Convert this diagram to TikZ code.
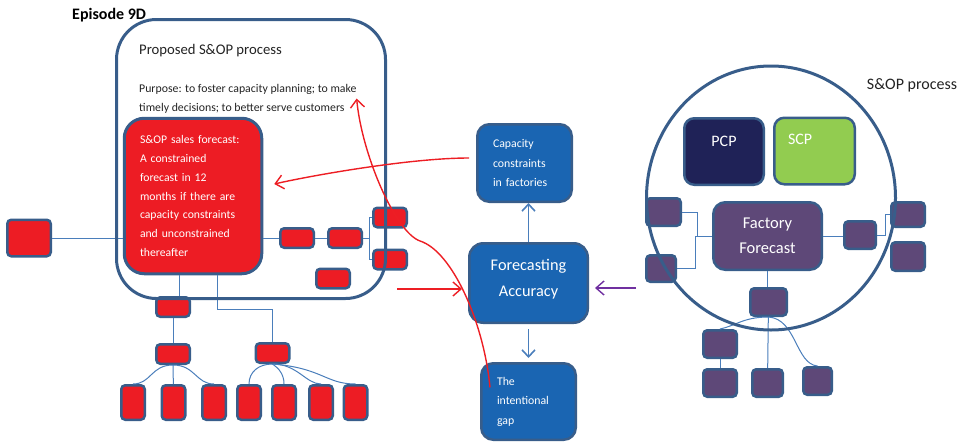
\documentclass[tikz,border=0pt]{standalone}
\usepackage{fontspec}
\setmainfont{Carlito}
\usepackage{xcolor}
\usetikzlibrary{arrows.meta,positioning,shapes.geometric}
\definecolor{EdgeBlue}{RGB}{56,93,138}
\definecolor{SopRed}{RGB}{237,28,36}
\definecolor{MidBlue}{RGB}{26,101,178}
\definecolor{LinkBlue}{RGB}{74,126,187}
\definecolor{ArrowRed}{RGB}{237,30,36}
\definecolor{ArrowPurple}{RGB}{112,48,160}
\definecolor{PcpNavy}{RGB}{31,34,87}
\definecolor{ScpGreen}{RGB}{146,204,80}
\definecolor{FactoryPurple}{RGB}{94,72,120}
\definecolor{TextDark}{RGB}{35,35,35}
\tikzset{
  frame/.style={draw=EdgeBlue, line width=3pt, inner sep=0pt},
  salesbox/.style={draw=EdgeBlue, fill=SopRed, line width=3pt, rounded corners=20pt,
    inner sep=0pt, text=white, align=left, font=\fontsize{11.7}{18.8}\selectfont},
  redcell/.style={draw=EdgeBlue, fill=SopRed, line width=2.5pt, rounded corners=4pt,
    inner sep=0pt, minimum width=33.5pt, minimum height=19.5pt},
  tallcell/.style={redcell, minimum width=23.5pt, minimum height=34.5pt},
  purplecell/.style={draw=EdgeBlue, fill=FactoryPurple, line width=2.5pt, rounded corners=4pt,
    inner sep=0pt, minimum width=33.5pt, minimum height=27.5pt},
  bluebox/.style={draw=EdgeBlue, fill=MidBlue, line width=2.5pt, rounded corners=12pt,
    inner sep=0pt, text=white, minimum width=94.5pt, minimum height=77.5pt,
    text width=63pt, align=left, font=\fontsize{11.8}{19.5}\selectfont},
  planbox/.style={draw=EdgeBlue, line width=2.5pt, rounded corners=10pt, inner sep=0pt,
    text=white, minimum width=79.5pt, minimum height=66.5pt, font=\fontsize{16}{19}\selectfont},
  link/.style={draw=LinkBlue, line width=1pt},
  arrow/.style={-{Straight Barb[length=7pt,width=13pt]}, draw=LinkBlue, line width=1.6pt},
  redarrow/.style={-{Straight Barb[length=8pt,width=14pt]}, draw=ArrowRed, line width=1.4pt},
  purplearrow/.style={-{Straight Barb[length=8pt,width=14pt]}, draw=ArrowPurple, line width=1.4pt}
}

\begin{document}
\begin{tikzpicture}[x=1pt, y=-1pt]
  \useasboundingbox (0,0) rectangle (972,442);
  \node[anchor=west, inner sep=0pt, font=\bfseries\fontsize{16}{19}\selectfont] (episode) at (72,15) {Episode 9D};

  % proposed process
  \node[salesbox, minimum width=137.5pt, minimum height=155.5pt, text width=106pt] (salesfc) at (193,196)
    {S\&OP sales forecast:\\A constrained\\forecast in 12\\months if there are\\capacity constraints\\and unconstrained\\thereafter};
  \node[redcell, minimum width=43.5pt, minimum height=36.5pt] (outside) at (29,238) {};
  \node[redcell] (cellA) at (297,238) {};
  \node[redcell, right=12pt of cellA] (cellB) {};
  \node[redcell] (cellC) at (390,217.5) {};
  \node[redcell, below=20pt of cellC] (cellD) {};
  \node[redcell] (cellE) at (333,278.5) {};
  \node[redcell] (cellF) at (173,307) {};
  \node[redcell, below=25pt of cellF] (cellG) {};
  \node[redcell] (cellH) at (272.5,353) {};
  \node[tallcell] (leaf1) at (133,402.5) {};
  \node[tallcell] (leaf2) at (173.5,402.5) {};
  \node[tallcell] (leaf3) at (214,402.5) {};
  \node[tallcell] (leaf4) at (249,402.5) {};
  \node[tallcell] (leaf5) at (284,402.5) {};
  \node[tallcell] (leaf6) at (321,402.5) {};
  \node[tallcell] (leaf7) at (355.5,402.5) {};

  \draw[link] (outside.east) -- (outside.east -| salesfc.west);
  \draw[link] (cellA.west -| salesfc.east) -- (cellA.west);
  \draw[link] (cellA) -- (cellB);
  \draw[link] (cellB.east) -- ++(6,0) |- (cellC.west);
  \draw[link] (cellB.east) -- ++(6,0) |- (cellD.west);
  \draw[link] ([xshift=6pt]cellF.north) -- ([xshift=6pt]cellF.north |- salesfc.south);
  \draw[link] ([xshift=24pt]salesfc.south) -- ++(0,34) -| (cellH.north);
  \draw[link] (cellF) -- (cellG);
  \draw[link] (cellG) -- (leaf2);
  \draw[link] (cellG.south) .. controls +(-22,0) and +(18,0) .. (leaf1.north);
  \draw[link] (cellG.south) .. controls +(22,0) and +(-18,0) .. (leaf3.north);
  \draw[link] (cellH.south) .. controls +(-14,0) and +(0,-12) .. (leaf4.north);
  \draw[link] (cellH.south) .. controls +(6,4) and +(0,-10) .. (leaf5.north);
  \draw[link] (cellH.south) .. controls +(25,0) and +(-15,0) .. (leaf6.north);
  \draw[link] (cellH.south) .. controls +(50,4) and +(-30,0) .. (leaf7.north);

  \node[frame, rounded corners=40pt, minimum width=269pt, minimum height=279pt] (proposed) at (251,159) {};
  \node[anchor=west, inner sep=0pt, text=TextDark, font=\fontsize{14.7}{17}\selectfont] (proptitle) at (139,51) {Proposed S\&OP process};
  \node[anchor=west, inner sep=0pt, align=left, text=TextDark, font=\fontsize{11.8}{19}\selectfont] (purpose) at (139,98.5)
    {Purpose: to foster capacity planning; to make\\timely decisions; to better serve customers};

  % accuracy column
  \node[bluebox, rounded corners=14pt, minimum width=118.5pt, minimum height=79.5pt, text width=110pt,
    align=center, text depth=36pt, font=\fontsize{16.3}{26}\selectfont] (accuracy) at (528.5,283) {Forecasting\\Accuracy};
  \node[bluebox] (capacity) at (524.5,163) {Capacity\\constraints\\in factories};
  \node[bluebox, minimum height=76.5pt] (gap) at (528.5,401.5) {The\\intentional\\gap};
  \draw[arrow] (accuracy.north) -- (accuracy.north |- capacity.south);
  \draw[arrow, shorten <=5pt, shorten >=4pt] (accuracy.south) -- (accuracy.south |- gap.north);
  \coordinate (redtail) at (397,289);
  \draw[redarrow, shorten >=6pt] (redtail) -- (redtail -| accuracy.west);
  \coordinate (purpletail) at (636,288);
  \draw[purplearrow, shorten >=6pt] (purpletail) -- (purpletail -| accuracy.east);

  % current S&OP process
  \node[planbox, fill=PcpNavy, text depth=20pt] (pcp) at (724,151.5) {PCP};
  \node[planbox, fill=ScpGreen, minimum width=80.5pt, text depth=24pt, text width=53pt, align=left] (scp) at (814.5,151) {SCP};
  \node[planbox, fill=FactoryPurple, rounded corners=12pt, minimum width=108.5pt, minimum height=67.5pt,
    align=center, font=\fontsize{16.5}{25}\selectfont] (factory) at (767.5,236) {Factory\\Forecast};
  \node[purplecell, minimum width=34.5pt] (left1) at (663.5,212) {};
  \node[purplecell, minimum width=29.5pt, minimum height=26.5pt] (left2) at (661,268.5) {};
  \node[purplecell, minimum width=31.5pt] (right1) at (860,235) {};
  \node[purplecell, minimum height=24.5pt] (right2) at (908,214.5) {};
  \node[purplecell, minimum height=28.5pt] (right3) at (908,256.5) {};
  \node[purplecell, minimum width=36.5pt] (down1) at (768.5,302) {};
  \node[purplecell] (down2) at (720,344) {};
  \node[purplecell, below=9pt of down2] (down3) {};
  \node[purplecell, minimum width=30.5pt] (down4) at (767.5,383) {};
  \node[purplecell, minimum width=28.5pt] (down5) at (817.5,381) {};

  \draw[link] (left1.east) -- ++(15,0) |- (factory.west);
  \draw[link] (left2.east) -- ++(18,0) |- (factory.west);
  \draw[link] (factory.east) -- (factory.east -| right1.west);
  \draw[link] (right1.east) -- ++(8,0) |- (right2.west);
  \draw[link] (factory.south) -- (factory.south |- down1.north);
  \draw[link] (down1) -- (down4);
  \draw[link] (down1.south) .. controls +(-25,0) and +(15,-3) .. (down2.north);
  \draw[link] (down1.south) .. controls +(28,2) and +(-22,-2) .. (down5.north);
  \draw[link] (down2) -- (down3);

  \node[ellipse, draw=EdgeBlue, line width=3pt, minimum width=249pt, minimum height=264pt, inner sep=0pt] (sopring) at (771,198) {};
  \node[inner sep=0pt, text=TextDark, font=\fontsize{16}{19}\selectfont] (soplabel) at (912,85) {S\&OP process};

  % red remarks
  \draw[redarrow] ([xshift=-7pt,yshift=5pt]capacity.west) .. controls +(-60,0) and +(35,-8) .. ([xshift=11pt,yshift=12pt]salesfc.east);
  \coordinate (bend) at (420,241);
  \draw[redarrow] ([xshift=10pt,yshift=14pt]gap.west) .. controls +(-6,-65) and +(32,10) .. (bend)
    .. controls +(-25,-9) and +(5,55) .. (purpose.east);
\end{tikzpicture}
\end{document}
